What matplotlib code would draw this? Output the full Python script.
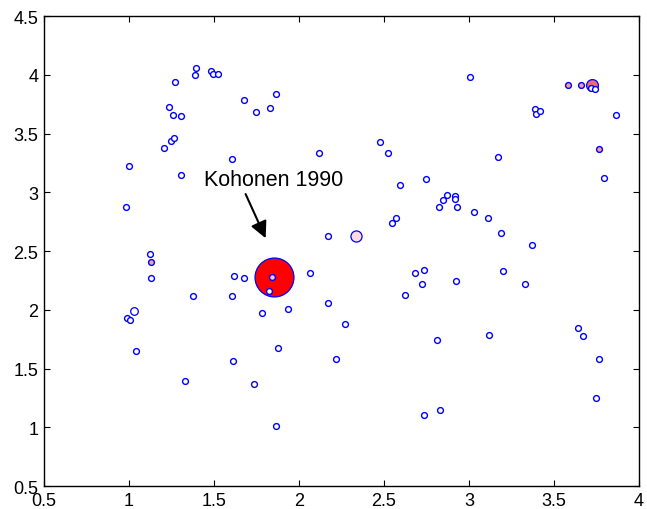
import matplotlib
matplotlib.use("Agg")
import matplotlib.pyplot as plt

plt.rcParams['font.family'] = ['Liberation Sans', 'DejaVu Sans']

# plain unit positions (open blue circles)
unit_x = [1.272, 1.396, 1.386, 1.482, 1.496, 1.525, 1.233, 1.257, 1.306, 1.676,
          1.749, 1.831, 1.863, 1.245, 1.265, 1.208, 1.000, 0.982, 1.306, 1.604,
          2.120, 2.172, 3.008, 3.388, 3.396, 3.419, 3.863, 3.796, 2.476, 2.524,
          3.169, 2.596, 2.749, 2.871, 2.847, 2.822, 2.918, 2.920, 2.928, 3.031,
          3.114, 3.186, 3.369, 2.572, 2.547, 1.121, 1.129, 1.619, 1.676, 1.378,
          1.604, 2.065, 2.172, 1.935, 1.782, 0.990, 1.008, 1.039, 1.878, 1.612,
          1.329, 1.734, 1.863, 2.272, 2.216, 2.622, 2.684, 2.734, 2.725, 2.926,
          3.200, 3.331, 2.814, 3.119, 3.643, 3.669, 3.767, 3.747, 2.734, 2.831]
unit_y = [3.938, 4.057, 3.995, 4.032, 4.004, 4.006, 3.728, 3.657, 3.646, 3.788,
          3.680, 3.717, 3.833, 3.434, 3.462, 3.377, 3.226, 2.874, 3.144, 3.283,
          3.331, 2.630, 3.984, 3.706, 3.669, 3.691, 3.657, 3.121, 3.425, 3.331,
          3.297, 3.062, 3.110, 2.979, 2.934, 2.874, 2.968, 2.943, 2.874, 2.829,
          2.781, 2.653, 2.548, 2.781, 2.736, 2.477, 2.268, 2.290, 2.268, 2.117,
          2.117, 2.313, 2.057, 2.009, 1.975, 1.927, 1.915, 1.649, 1.672, 1.567,
          1.391, 1.368, 1.008, 1.881, 1.581, 2.126, 2.313, 2.336, 2.222, 2.245,
          2.327, 2.222, 1.743, 1.788, 1.847, 1.777, 1.581, 1.251, 1.102, 1.147]

# units with a few hits (salmon fill)
hit_x = [3.580, 3.661, 3.767, 1.129]
hit_y = [3.915, 3.915, 3.365, 2.406]

# winner units, size grows with hit count
win_x = [1.853, 3.725, 2.337, 1.031]
win_y = [2.282, 3.913, 2.630, 1.987]
win_size = [28, 8.5, 8, 5.5]
win_face = ['#ff0000', '#f26a6a', '#ffdcdc', 'white']

# small units drawn on top of the winners
top_x = [1.839, 1.821, 3.718, 3.741]
top_y = [2.279, 2.162, 3.890, 3.881]
top_face = ['#f0c8d8', 'white', 'white', 'white']

fig = plt.figure(figsize=(6.47, 5.10), dpi=100)
ax = fig.add_axes([0.068, 0.045, 0.9196, 0.9216])

for x, y, s, fc in zip(win_x, win_y, win_size, win_face):
    ax.plot(x, y, 'o', ms=s, mfc=fc, mec='blue', mew=0.9, zorder=2)

ax.plot(unit_x, unit_y, 'o', ms=4.2, mfc='white', mec='blue', mew=1.0,
        linestyle='none', zorder=3)
ax.plot(hit_x, hit_y, 'o', ms=4.2, mfc='#f4a09c', mec='blue', mew=1.0,
        linestyle='none', zorder=3)
for x, y, fc in zip(top_x, top_y, top_face):
    ax.plot(x, y, 'o', ms=4.2, mfc=fc, mec='blue', mew=1.0, zorder=4)

# label and arrow pointing at the winning unit
ax.text(1.44, 3.113, 'Kohonen 1990', fontsize=15.5, ha='left', va='center')
ax.annotate('', xy=(1.804, 2.609), xytext=(1.686, 2.985),
            arrowprops=dict(arrowstyle='-|>,head_length=1.0,head_width=0.5',
                            color='black', lw=1.5, shrinkA=0, shrinkB=0))

ax.set_xlim(0.5, 4)
ax.set_ylim(0.5, 4.5)
ax.set_xticks([0.5, 1, 1.5, 2, 2.5, 3, 3.5, 4])
ax.set_yticks([0.5, 1, 1.5, 2, 2.5, 3, 3.5, 4, 4.5])
ax.set_xticklabels(['0.5', '1', '1.5', '2', '2.5', '3', '3.5', '4'])
ax.set_yticklabels(['0.5', '1', '1.5', '2', '2.5', '3', '3.5', '4', '4.5'])
ax.tick_params(direction='in', top=True, right=True, length=4, labelsize=13,
               width=0.8, pad=4)
for sp in ax.spines.values():
    sp.set_linewidth(1.0)

fig.savefig('out.png', dpi=100)
